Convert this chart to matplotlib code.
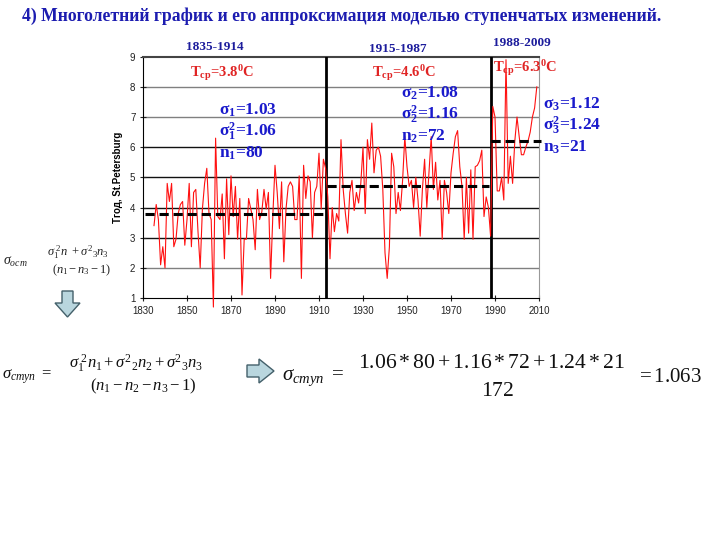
import matplotlib
matplotlib.use('Agg')
import matplotlib.pyplot as plt
import matplotlib.patches as mpatches

plt.rcParams['mathtext.fontset'] = 'custom'
plt.rcParams['mathtext.rm'] = 'Liberation Serif'
plt.rcParams['mathtext.it'] = 'Liberation Serif:italic'
plt.rcParams['mathtext.bf'] = 'Liberation Serif:bold'
plt.rcParams['mathtext.sf'] = 'Liberation Sans'

# ---------------- data ----------------
years = list(range(1835, 2010))
temps_1835_1912 = [3.4, 4.1, 3.6, 2.1, 2.7, 2.0, 4.8, 4.2, 4.8, 2.7,
                   2.95, 3.8, 4.1, 4.2, 2.75, 3.6, 4.8, 2.7, 4.5, 4.6,
                   3.2, 2.0, 3.95, 4.8, 5.3, 3.8, 3.6, 0.7, 6.3, 3.7,
                   3.6, 4.45, 2.3, 4.95, 3.1, 5.05, 3.7, 4.7, 2.95, 4.3,
                   1.1, 2.95, 2.95, 4.3, 3.95, 3.6, 2.6, 4.6, 3.6, 3.85,
                   4.6, 3.95, 4.5, 1.65, 3.7, 5.4, 4.5, 3.3, 4.85, 2.2,
                   3.95, 4.7, 4.85, 4.7, 3.6, 3.6, 5.05, 1.65, 5.4, 4.3,
                   5.05, 4.85, 3.0, 4.5, 4.7, 5.8, 3.95, 5.6]
temps_1913_1988 = [5.3, 4.35, 2.3, 4.0, 3.2, 3.8, 3.55, 6.25, 4.6, 3.8,
                   3.15, 4.5, 4.9, 3.9, 4.5, 4.15, 4.8, 6.0, 3.8, 6.25,
                   5.6, 6.8, 5.15, 5.9, 6.0, 5.7, 4.6, 2.5, 1.65, 2.7,
                   5.8, 5.35, 3.8, 4.5, 3.9, 4.9, 6.35, 5.35, 4.7, 4.9,
                   4.0, 5.0, 4.25, 3.05, 4.6, 5.6, 4.0, 5.15, 6.35, 4.6,
                   5.5, 4.25, 4.9, 2.95, 4.9, 4.5, 3.8, 5.15, 5.8, 6.35,
                   6.55, 5.35, 4.7, 2.95, 5.0, 3.15, 5.25, 2.95, 5.35, 5.4,
                   5.55, 5.9, 3.7, 4.35, 4.0, 3.05]
temps_1989_2009 = [7.35, 7.0, 4.55, 4.55, 5.0, 4.25, 8.9, 4.8, 5.7, 4.8,
                   6.2, 7.0, 6.35, 5.75, 5.75, 6.0, 6.2, 6.5, 7.0, 7.3, 8.0]
temps = temps_1835_1912 + temps_1913_1988 + temps_1989_2009

step_starts = [1831, 1913.6, 1988.2]
step_ends = [1913.2, 1987.4, 2010.7]
step_means = [3.8, 4.7, 6.2]
boundaries = [1913.2, 1988.0]

period_labels = ['1835-1914', '1915-1987', '1988-2009']
tcp_values = ['3.8', '4.6', '6.3']
sigma_values = ['1.03', '1.08', '1.12']
sigma2_values = ['1.06', '1.16', '1.24']
n_values = ['80', '72', '21']

x_ticks = list(range(1830, 2011, 20))
y_ticks = list(range(1, 10))

# ---------------- figure ----------------
W, H = 720, 540
fig = plt.figure(figsize=(7.2, 5.4), dpi=100)
fig.patch.set_facecolor('white')

def fx(x):
    return x / W

def fy(y):
    return 1 - y / H

ax = fig.add_axes([fx(143), fy(298), 396 / W, 241.3 / H])
ax.set_xlim(1830, 2010)
ax.set_ylim(1, 9)

for v in y_ticks[1:-1]:
    col = '#111111' if v in (3, 4, 5, 6) else '#808080'
    ax.axhline(v, color=col, lw=1.0, zorder=1)

for b in boundaries:
    ax.axvline(b, color='black', lw=2.0, zorder=3)

ax.plot(years, temps, color='#ff1010', lw=0.8, zorder=4, clip_on=False)

for s, e, m in zip(step_starts, step_ends, step_means):
    ax.plot([s, e], [m, m], color='black', lw=2.2, ls=(0, (3, 1.6)),
            zorder=5, clip_on=False)

ax.set_xticks(x_ticks)
ax.set_yticks(y_ticks)
ax.tick_params(axis='both', direction='inout', length=4, width=0.8,
               labelsize=7, colors='#222222')
for lab in ax.get_xticklabels() + ax.get_yticklabels():
    lab.set_fontfamily('Liberation Sans')
ax.spines['left'].set_color('black')
ax.spines['bottom'].set_color('black')
ax.spines['top'].set_color('#444444')
ax.spines['top'].set_linewidth(1.5)
ax.spines['right'].set_color('#999999')
ax.set_ylabel('Тгод, St.Petersburg', fontsize=7, fontweight='bold',
              family='Liberation Sans', labelpad=5)

serif = 'Liberation Serif'

# title
fig.text(fx(22), fy(16), '4) Многолетний график и его аппроксимация моделью ступенчатых изменений.',
         fontsize=12.7, fontweight='bold', family=serif, color='#1c1cb0',
         ha='left', va='center')

# period labels
for (x, y), lab in zip([(215, 47), (398, 49), (522, 43)], period_labels):
    fig.text(fx(x), fy(y), lab, fontsize=9.5, fontweight='bold', family=serif,
             color='#1c1c9c', ha='center', va='center')

# mean temperature labels
for (x, y), val in zip([(190, 73), (372, 73), (493, 68)], tcp_values):
    fig.text(fx(x), fy(y), r'T$_{\mathbf{ср}}$=' + val + r'$^{\mathbf{0}}$C',
             fontsize=10.5, fontweight='bold', family=serif, color='#e02424',
             ha='left', va='center')

# sigma labels
blue = '#1a1acc'
for i, ((x, y0), sv, s2v, nv) in enumerate(zip([(219, 110), (401, 93), (543, 104)],
                                               sigma_values, sigma2_values, n_values)):
    k = str(i + 1)
    lines = ['σ$_{\\mathbf{' + k + '}}$=' + sv,
             'σ$_{\\mathbf{' + k + '}}^{\\mathbf{2}}$=' + s2v,
             'n$_{\\mathbf{' + k + '}}$=' + nv]
    for j, s in enumerate(lines):
        fig.text(fx(x), fy(y0 + 21.5 * j), s, fontsize=12.5, fontweight='bold',
                 family=serif, color=blue, ha='left', va='center')

# small formula at left
fig.text(fx(3), fy(262), r'$\mathit{\sigma}_{\mathit{ост}}$', fontsize=10,
         family=serif, ha='left', va='center', color='#222222')
fig.text(fx(47), fy(252), r'$\mathit{\sigma}_1^{\ 2}\mathit{n}\ +\mathit{\sigma}^2{}_3\mathit{n}_3$',
         fontsize=9, family=serif, ha='left', va='center', color='#222222')
fig.text(fx(52), fy(270), r'$(\mathit{n}_1-\mathit{n}_3-1)$',
         fontsize=9, family=serif, ha='left', va='center', color='#222222')

# bottom-left formula
fig.text(fx(2), fy(377), r'$\mathit{\sigma}_{\mathit{ступ}}\ =$', fontsize=12,
         family=serif, ha='left', va='center', color='#111111')
fig.text(fx(69), fy(364),
         r'$\mathit{\sigma}_1^{\ 2}\mathit{n}_1+\mathit{\sigma}^2{}_2\mathit{n}_2+\mathit{\sigma}^2{}_3\mathit{n}_3$',
         fontsize=12, family=serif, ha='left', va='center', color='#111111')
fig.text(fx(90), fy(386), r'$(\mathit{n}_1-\mathit{n}_2-\mathit{n}_3-1)$',
         fontsize=12, family=serif, ha='left', va='center', color='#111111')

# bottom-right formula
fig.text(fx(282), fy(378), r'$\mathit{\sigma}_{\mathit{ступ}}\ =$', fontsize=15,
         family=serif, ha='left', va='center', color='#111111')
fig.text(fx(358), fy(364), r'$1.06*80+1.16*72+1.24*21$', fontsize=15.6,
         family=serif, ha='left', va='center', color='#111111')
fig.text(fx(497), fy(392), r'$172$', fontsize=15.6,
         family=serif, ha='center', va='center', color='#111111')
fig.text(fx(636), fy(377), r'$=1.063$', fontsize=15,
         family=serif, ha='left', va='center', color='#111111')

# arrows
def block_arrow(pts):
    poly = mpatches.Polygon([(fx(x), fy(y)) for x, y in pts], closed=True,
                            transform=fig.transFigure, facecolor='#b9d6de',
                            edgecolor='#44606a', lw=1.0)
    fig.patches.append(poly)

block_arrow([(62, 291), (73, 291), (73, 303), (80, 303), (67.5, 317),
             (55, 303), (62, 303)])
block_arrow([(247, 365), (259, 365), (259, 359), (274, 371), (259, 383),
             (259, 377), (247, 377)])

fig.savefig('out.png', dpi=100)
